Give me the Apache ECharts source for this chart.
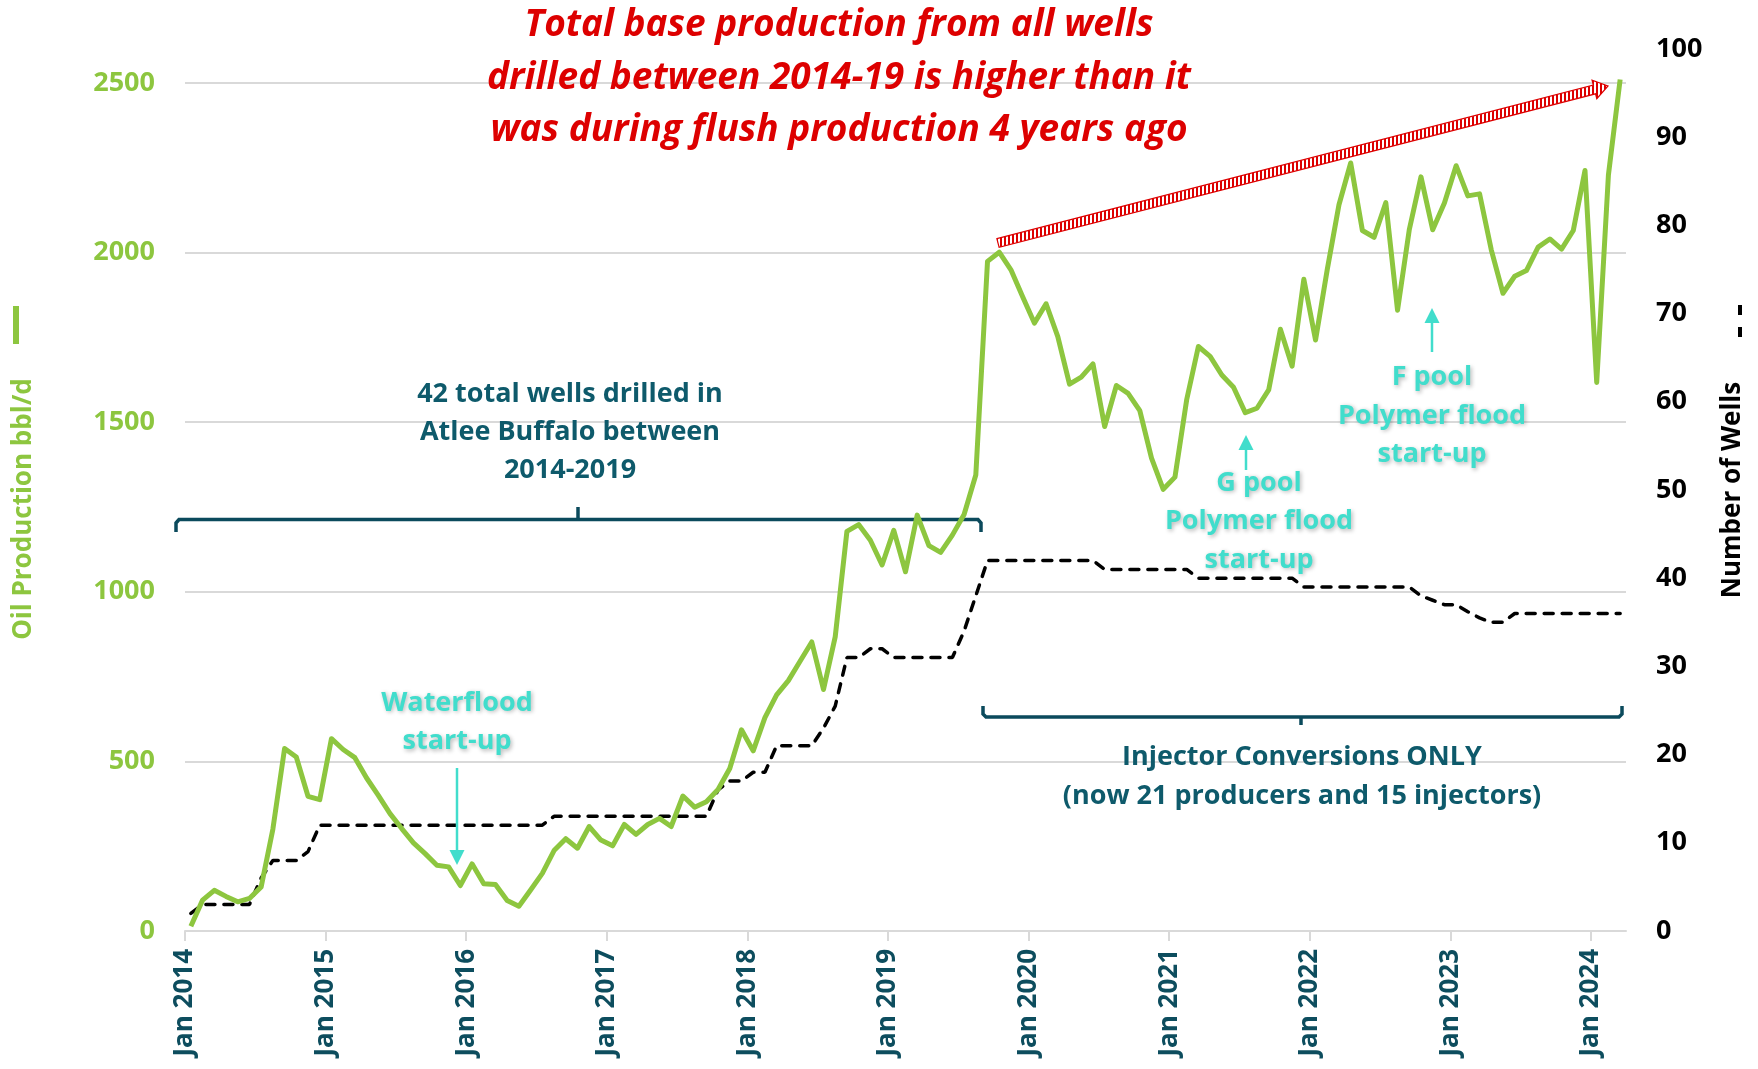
<!DOCTYPE html>
<html lang="en">
<head>
<meta charset="UTF-8" />
<title>Atlee Buffalo base production</title>
<script src="https://cdn.jsdelivr.net/npm/echarts@6/dist/echarts.min.js"></script>
<style>
  html, body { margin: 0; padding: 0; background: #fff; }
  #main { width: 1758px; height: 1069px; }
</style>
</head>
<body>
<div id="main"></div>
<script>
  // monthly data, first value = Jan 2014
  const startYear = 2014;
  const yearLabels = [2014, 2015, 2016, 2017, 2018, 2019, 2020, 2021, 2022, 2023, 2024];

  // oil production, bbl/d
  const oilProduction = [
    14, 91, 120, 102, 86, 96, 130, 300, 538, 513, 397, 387, // 2014
    567, 535, 511, 451, 400, 346, 302, 260, 228, 194, 189, 134, // 2015
    198, 139, 137, 90, 73, 121, 170, 237, 272, 244, 308, 268, // 2016
    251, 314, 285, 314, 332, 308, 398, 365, 381, 417, 479, 593, // 2017
    531, 629, 696, 738, 795, 852, 712, 867, 1178, 1198, 1152, 1079, // 2018
    1181, 1059, 1226, 1136, 1116, 1167, 1228, 1344, 1974, 2001, 1949, 1870, // 2019
    1792, 1849, 1752, 1612, 1633, 1672, 1487, 1608, 1585, 1534, 1394, 1302, // 2020
    1338, 1566, 1723, 1694, 1639, 1603, 1528, 1541, 1595, 1774, 1665, 1921, // 2021
    1742, 1950, 2141, 2264, 2065, 2045, 2147, 1830, 2067, 2223, 2067, 2146, // 2022
    2256, 2167, 2173, 2008, 1880, 1930, 1947, 2016, 2040, 2010, 2065, 2242, // 2023
    1617, 2229, 2510 // 2024
  ];

  // number of wells
  const wellCount = [
    2, 3, 3, 3, 3, 3, 6, 8, 8, 8, 9, 12,
    12, 12, 12, 12, 12, 12, 12, 12, 12, 12, 12, 12,
    12, 12, 12, 12, 12, 12, 12, 13, 13, 13, 13, 13,
    13, 13, 13, 13, 13, 13, 13, 13, 13, 16, 17, 17,
    18, 18, 21, 21, 21, 21, 23, 25.5, 31, 31, 32, 32,
    31, 31, 31, 31, 31, 31, 34, 38, 42, 42, 42, 42,
    42, 42, 42, 42, 42, 42, 41, 41, 41, 41, 41, 41,
    41, 41, 40, 40, 40, 40, 40, 40, 40, 40, 40, 39,
    39, 39, 39, 39, 39, 39, 39, 39, 39, 38, 37.5, 37,
    37, 36.2, 35.5, 35, 35, 36, 36, 36, 36, 36, 36, 36,
    36, 36, 36
  ];

  const green = "#8DC63F";
  const teal = "#0E5A6B";
  const darkTeal = "#0B4A5C";
  const aqua = "#41DDCC";
  const red = "#DD0000";
  const family = "'Open Sans'";

  const monthCount = oilProduction.length;
  const yearTicks = yearLabels.map((y) => (y - startYear) * 12);

  // point sits in the middle of its month
  const toPoints = (arr) => arr.map((v, i) => [i + 0.5, v]);

  // red hatched arrow
  const stripes = () => {
    const c = document.createElement("canvas");
    c.width = 4;
    c.height = 4;
    const ctx = c.getContext("2d");
    ctx.fillStyle = "#fff";
    ctx.fillRect(0, 0, 4, 4);
    ctx.fillStyle = red;
    ctx.fillRect(0, 0, 2, 4);
    return { image: c, repeat: "repeat" };
  };

  const hatchedArrow = (x0, y0, x1, y1) => {
    const len = Math.hypot(x1 - x0, y1 - y0);
    const ux = (x1 - x0) / len, uy = (y1 - y0) / len;
    const nx = -uy, ny = ux;
    const h = 4.5, hh = 9.5, hl = 14;
    const bx = x1 - ux * hl, by = y1 - uy * hl;
    const p = (x, y, s) => [x + nx * s, y + ny * s];
    return {
      type: "polygon",
      z: 20,
      shape: {
        points: [p(x0, y0, -h), p(bx, by, -h), p(bx, by, -hh), [x1, y1], p(bx, by, hh), p(bx, by, h), p(x0, y0, h)],
      },
      style: { fill: stripes(), stroke: red, lineWidth: 1.2 },
    };
  };

  // small turquoise arrows
  const aquaArrow = (x, yFrom, yTip) => {
    const dir = yTip > yFrom ? 1 : -1;
    const hl = 15, half = 7.5;
    return [
      { type: "line", z: 20, shape: { x1: x, y1: yFrom, x2: x, y2: yTip - dir * hl }, style: { stroke: aqua, lineWidth: 2.5 } },
      { type: "polygon", z: 20, shape: { points: [[x - half, yTip - dir * hl], [x + half, yTip - dir * hl], [x, yTip]] }, style: { fill: aqua } },
    ];
  };

  const text = (str, x, y, fontStr, color, lineHeight, extra) => ({
    type: "text",
    x: x,
    y: y,
    z: 30,
    style: Object.assign(
      {
        text: str,
        font: fontStr,
        fill: color,
        align: "center",
        verticalAlign: "middle",
        textAlign: "center",
        textVerticalAlign: "middle",
        lineHeight: lineHeight,
      },
      extra || {}
    ),
  });

  const glow = { textShadowColor: "rgba(0,0,0,0.28)", textShadowBlur: 4, textShadowOffsetX: 1.5, textShadowOffsetY: 1.5 };
  const noteFont = "bold 27px " + family;

  const graphics = [
    // title
    text("Total base production from all wells\ndrilled between 2014-19 is higher than it\nwas during flush production 4 years ago",
      839, 78, "italic bold 37px " + family, red, 52.5),
    hatchedArrow(998, 243, 1608, 86),

    // brackets
    { type: "polyline", z: 1, shape: { points: [[176, 532], [176, 523], [179, 519.5], [978, 519.5], [981, 523], [981, 532]] }, style: { stroke: darkTeal, lineWidth: 3.5, fill: null } },
    { type: "line", z: 1, shape: { x1: 578, y1: 519.5, x2: 578, y2: 507 }, style: { stroke: darkTeal, lineWidth: 3.5 } },
    { type: "polyline", z: 1, shape: { points: [[983, 706], [983, 714], [986, 717], [1619, 717], [1622, 714], [1622, 706]] }, style: { stroke: darkTeal, lineWidth: 3.5, fill: null } },
    { type: "line", z: 1, shape: { x1: 1301, y1: 717, x2: 1301, y2: 725 }, style: { stroke: darkTeal, lineWidth: 3.5 } },

    text("42 total wells drilled in\nAtlee Buffalo between\n2014-2019", 570, 432, noteFont, teal, 38),
    text("Injector Conversions ONLY\n(now 21 producers and 15 injectors)", 1302, 776.5, noteFont, teal, 39),

    text("Waterflood\nstart-up", 457, 722.5, noteFont, aqua, 38.5, glow),
    ...aquaArrow(457, 768, 865),
    text("G pool\nPolymer flood\nstart-up", 1259, 521.5, noteFont, aqua, 38.5, glow),
    ...aquaArrow(1246, 470, 435),
    text("F pool\nPolymer flood\nstart-up", 1432, 416, noteFont, aqua, 38.5, glow),
    ...aquaArrow(1432, 352, 308),

    // axis titles with line keys
    { type: "line", shape: { x1: 16, y1: 306, x2: 16, y2: 344 }, style: { stroke: green, lineWidth: 6 } },
    Object.assign(text("Oil Production bbl/d", 24, 509, "bold 26px " + family, green), { rotation: Math.PI / 2 }),
    { type: "line", shape: { x1: 1740, y1: 305, x2: 1740, y2: 343 }, style: { stroke: "#000", lineWidth: 4, lineDash: [10, 12] } },
    Object.assign(text("Number of Wells", 1733, 490, "bold 26px " + family, "#000"), { rotation: Math.PI / 2 }),
  ];

  const chart = echarts.init(document.getElementById("main"));

  const option = {
    animation: false,
    backgroundColor: "#fff",
    textStyle: { fontFamily: family },
    grid: { left: 185, right: 132, top: 49, bottom: 138, outerBoundsMode: "none" },
    xAxis: {
      type: "value",
      min: 0,
      max: monthCount,
      interval: 12,
      axisLine: { show: true, lineStyle: { color: "#D9D9D9", width: 2 } },
      axisTick: { show: true, length: 10, customValues: yearTicks, lineStyle: { color: "#D9D9D9", width: 2 } },
      axisLabel: {
        customValues: yearTicks,
        rotate: 90,
        margin: 18,
        color: "#0D4D5E",
        fontWeight: "bold",
        fontSize: 26,
        fontFamily: family,
        formatter: (v) => "Jan " + (startYear + Math.round(v / 12)),
      },
      splitLine: { show: false },
    },
    yAxis: [
      {
        type: "value",
        min: 0,
        max: 2600,
        interval: 500,
        axisLine: { show: false },
        axisTick: { show: false },
        axisLabel: {
          showMaxLabel: false,
          color: green,
          fontWeight: "bold",
          fontSize: 27,
          fontFamily: family,
          margin: 30,
          formatter: (v) => String(v),
        },
        splitLine: { show: true, showMaxLine: false, lineStyle: { color: "#D9D9D9", width: 2 } },
      },
      {
        type: "value",
        min: 0,
        max: 100,
        interval: 10,
        position: "right",
        axisLine: { show: false },
        axisTick: { show: false },
        axisLabel: { color: "#000", fontWeight: "bold", fontSize: 27, fontFamily: family, margin: 30, formatter: (v) => String(v) },
        splitLine: { show: false },
      },
    ],
    series: [
      {
        name: "Number of Wells",
        type: "line",
        yAxisIndex: 1,
        data: toPoints(wellCount),
        showSymbol: false,
        z: 2,
        lineStyle: { color: "#000", width: 3.5, type: [9, 9], cap: "round" },
      },
      {
        name: "Oil Production bbl/d",
        type: "line",
        yAxisIndex: 0,
        data: toPoints(oilProduction),
        showSymbol: false,
        z: 3,
        lineStyle: { color: green, width: 5, join: "round" },
      },
    ],
    graphic: { elements: graphics },
  };

  chart.setOption(option);
</script>
</body>
</html>
